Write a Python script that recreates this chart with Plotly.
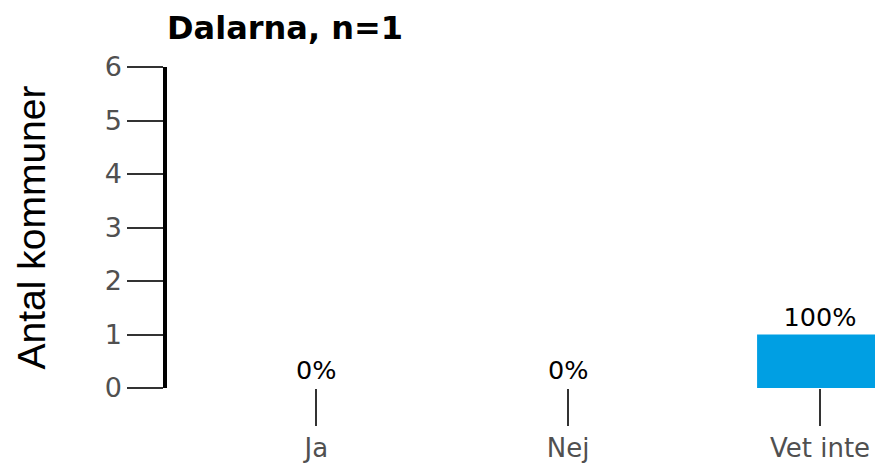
import plotly.graph_objects as go

categories = ["Ja", "Nej", "Vet inte"]
counts = [0, 0, 1]
pct_labels = ["0%", "0%", "100%"]
y_ticks = [0, 1, 2, 3, 4, 5, 6]
title_text = "Dalarna, n=1"
y_title = "Antal kommuner"

fig = go.Figure(go.Bar(
    x=categories, y=counts, text=pct_labels, textposition="outside",
    textfont=dict(family="DejaVu Sans", size=25.5, color="black"),
    marker=dict(color="#009FE3", line=dict(width=0)),
    width=0.5, cliponaxis=False,
))

fig.update_layout(
    width=883, height=463,
    margin=dict(l=159, r=8, t=59, b=79),
    plot_bgcolor="white", paper_bgcolor="white",
    font=dict(family="DejaVu Sans", size=25, color="#505050"),
    title=dict(text="<b>" + title_text + "</b>", x=0, xref="paper", xanchor="left",
               y=0.982, yref="container", yanchor="top",
               font=dict(family="DejaVu Sans", size=32, color="black")),
    showlegend=False,
)
fig.update_xaxes(range=[-0.593, 2.25], showline=False, showgrid=False, zeroline=False,
                 ticks="outside", ticklen=37, tickwidth=1.5, tickcolor="#333333",
                 tickfont=dict(family="DejaVu Sans", size=26, color="#505050"))
fig.update_yaxes(range=[0, 6], tickvals=y_ticks, showline=True, linewidth=3.5,
                 linecolor="black", showgrid=False, zeroline=False,
                 ticks="outside", ticklen=36, tickwidth=1.5, tickcolor="#333333",
                 tickfont=dict(family="DejaVu Sans", size=27, color="#505050"),
                 title=dict(text=y_title, standoff=48,
                            font=dict(family="Liberation Sans", size=39, color="black")))

fig.write_html("out.html")
